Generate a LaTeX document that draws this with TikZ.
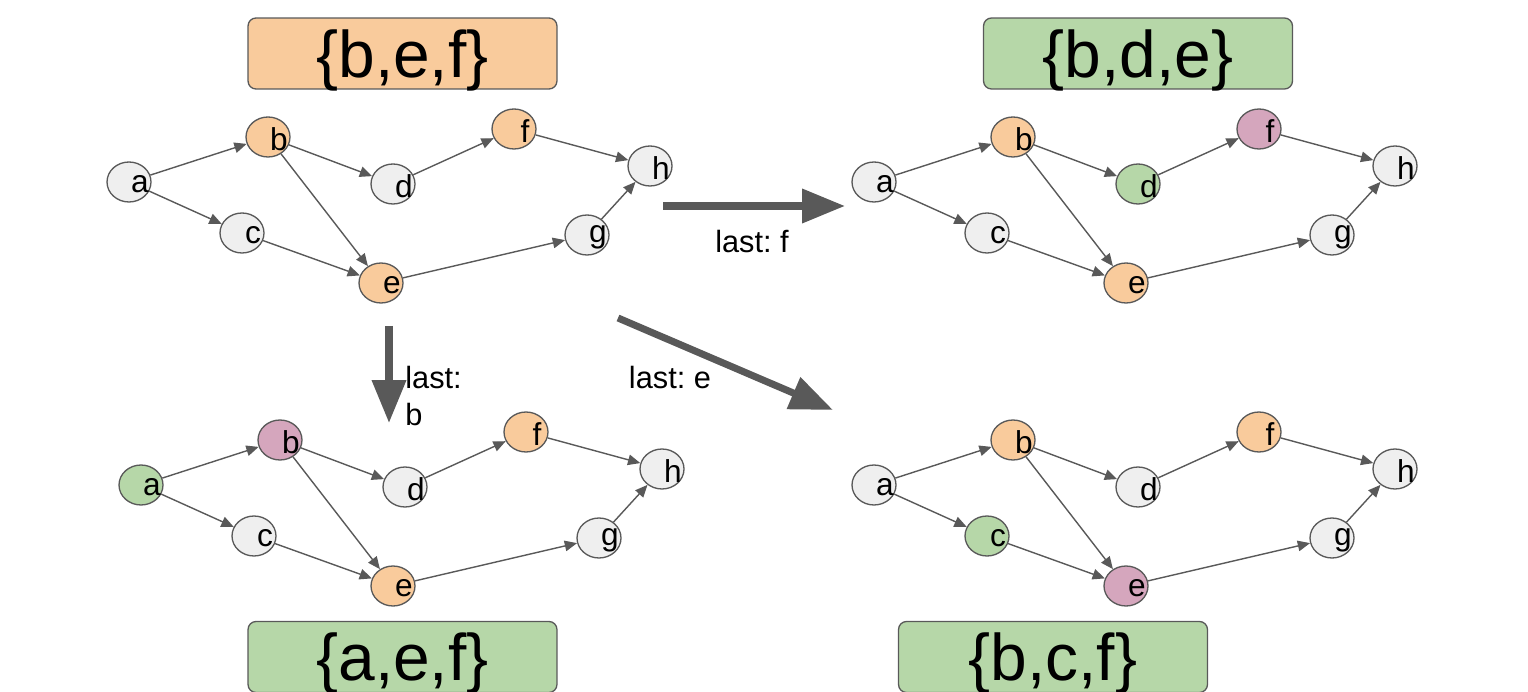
\documentclass[tikz,border=0pt]{standalone}
\usepackage{fontspec}
\setmainfont{Liberation Sans}
\usetikzlibrary{arrows.meta,shapes.geometric}

\definecolor{peach}{HTML}{F9CB9C}
\definecolor{sage}{HTML}{B6D7A8}
\definecolor{mauve}{HTML}{D5A6BD}
\definecolor{pale}{HTML}{EFEFEF}
\definecolor{linegrey}{HTML}{595959}

\tikzset{
  vtx/.style={ellipse,draw=linegrey,line width=0.75pt,minimum width=0.88cm,minimum height=0.8cm,inner sep=0pt},
  vlabel/.style={xshift=0.22cm,yshift=-0.05cm,inner sep=0pt},
  dagedge/.style={draw=linegrey,line width=0.8pt,-{Triangle[length=7pt,width=6pt]}},
  bigedge/.style={draw=linegrey,line width=4pt,-{Triangle[length=0.86cm,width=0.66cm]}},
  setbox/.style={draw=linegrey,line width=0.75pt,rounded corners=0.16cm,minimum width=6.18cm,minimum height=1.42cm,text depth=0pt,font=\fontsize{37.5}{45}\selectfont},
  lastlbl/.style={font=\fontsize{17.5}{21.5}\selectfont,inner sep=0pt}
}

\begin{document}
\frenchspacing
\begin{tikzpicture}[x=0.02cm,y=-0.02cm,every node/.style={font=\fontsize{18}{21}\selectfont}]
  \useasboundingbox (0,0) rectangle (1528,692);
  \clip (0,0) rectangle (1528,692);

  \foreach \g/\dx/\dy/\ca/\cb/\cc/\cd/\ce/\cf in {tl/0/0/pale/peach/pale/pale/peach/peach,
      tr/745/0/pale/peach/pale/sage/peach/mauve,
      bl/12/303/sage/mauve/pale/pale/peach/peach,
      br/745/303/pale/peach/sage/pale/mauve/peach}{
    \begin{scope}[shift={(\dx,\dy)}]
      \node[vtx,fill=\ca,label={[vlabel]center:a}] (\g-a) at (129,182) {};
      \node[vtx,fill=\cb,label={[vlabel]center:b}] (\g-b) at (268,137) {};
      \node[vtx,fill=\cc,label={[vlabel]center:c}] (\g-c) at (242,233) {};
      \node[vtx,fill=\cd,label={[vlabel]center:d}] (\g-d) at (393,184) {};
      \node[vtx,fill=\ce,label={[vlabel]center:e}] (\g-e) at (381,283) {};
      \node[vtx,fill=\cf,label={[vlabel]center:f}] (\g-f) at (514,129) {};
      \node[vtx,fill=pale,label={[vlabel]center:g}] (\g-g) at (587,235) {};
      \node[vtx,fill=pale,label={[vlabel]center:h}] (\g-h) at (650,166) {};
    \end{scope}
    \foreach \s/\t in {a/b,a/c,b/d,b/e,c/e,d/f,e/g,f/h,g/h}
      \draw[dagedge] (\g-\s) -- (\g-\t);
  }

  \node[setbox,fill=peach] (tl-set) at (402.5,53.5) {\{b,e,f\}};
  \node[setbox,fill=sage] (tr-set) at (1138,53.5) {\{b,d,e\}};
  \node[setbox,fill=sage] (bl-set) at (402.5,657) {\{a,e,f\}};
  \node[setbox,fill=sage] (br-set) at (1053,657) {\{b,c,f\}};

  \coordinate (f-from) at (663,206);
  \coordinate (f-to) at (845,206);
  \coordinate (b-from) at (389,326);
  \coordinate (b-to) at (389,423);
  \coordinate (e-from) at (618,318);
  \coordinate (e-to) at (833,410);
  \draw[bigedge] (f-from) -- (f-to);
  \draw[bigedge] (b-from) -- (b-to);
  \draw[bigedge] (e-from) -- (e-to);
  \node[lastlbl] (f-lbl) at (752,242) {last: f};
  \node[lastlbl,anchor=west,align=left] (b-lbl) at (405,396) {last:\\b};
  \node[lastlbl] (e-lbl) at (670,378) {last: e};
\end{tikzpicture}
\end{document}
